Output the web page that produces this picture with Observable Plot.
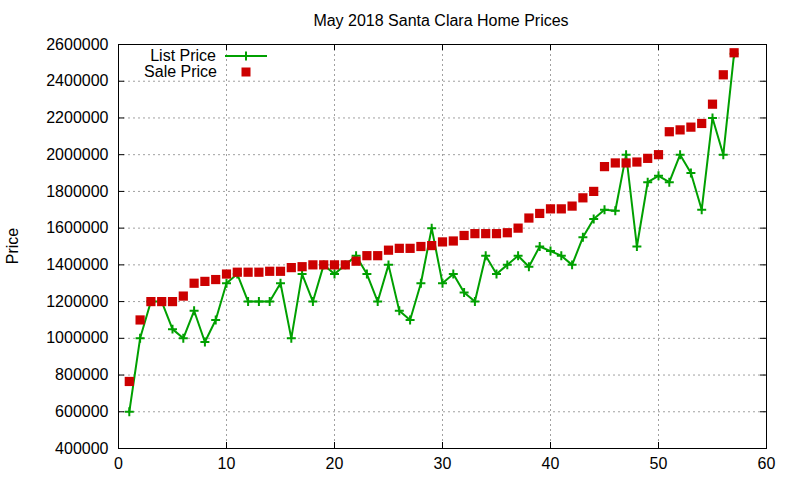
<!DOCTYPE html>
<html>
<head>
<meta charset="utf-8">
<script src="https://cdn.jsdelivr.net/npm/d3@7"></script>
<script src="https://cdn.jsdelivr.net/npm/@observablehq/plot@0.6"></script>
<style>
  html, body { margin: 0; padding: 0; background: #fff; }
  #chart { width: 800px; height: 480px; }
  svg { font-family: "Liberation Sans", Arial, sans-serif; }
</style>
</head>
<body>
<div id="chart"></div>
<script>
const title = "May 2018 Santa Clara Home Prices";
const yLabel = "Price";
const seriesNames = ["List Price", "Sale Price"];

const homeIndex = d3.range(1, 58);
const listPrice = [
  600000, 1000000, 1200000, 1200000, 1050000, 1000000, 1150000, 980000, 1100000, 1300000,
  1350000, 1200000, 1200000, 1200000, 1300000, 1000000, 1350000, 1200000, 1400000, 1350000,
  1400000, 1450000, 1350000, 1200000, 1400000, 1150000, 1100000, 1300000, 1600000, 1300000,
  1350000, 1250000, 1200000, 1450000, 1350000, 1400000, 1450000, 1390000, 1500000, 1475000,
  1450000, 1400000, 1550000, 1650000, 1700000, 1695000, 2000000, 1500000, 1850000, 1885000,
  1850000, 2000000, 1900000, 1700000, 2200000, 2000000, 2550000
];
const salePrice = [
  765000, 1100000, 1200000, 1200000, 1200000, 1230000, 1300000, 1310000, 1320000, 1350000,
  1360000, 1360000, 1360000, 1365000, 1365000, 1385000, 1390000, 1400000, 1400000, 1400000,
  1400000, 1420000, 1450000, 1450000, 1480000, 1490000, 1490000, 1500000, 1505000, 1525000,
  1530000, 1560000, 1570000, 1570000, 1570000, 1575000, 1600000, 1655000, 1680000, 1705000,
  1705000, 1720000, 1765000, 1800000, 1935000, 1955000, 1955000, 1960000, 1980000, 2000000,
  2125000, 2135000, 2150000, 2170000, 2275000, 2435000, 2555000
];
const xTicks = [0, 10, 20, 30, 40, 50, 60];
const yTicks = [400000, 600000, 800000, 1000000, 1200000, 1400000, 1600000, 1800000, 2000000, 2200000, 2400000, 2600000];

const listColor = "#00a000";
const saleColor = "#cc0000";

const listData = homeIndex.map((x, i) => ({x, y: listPrice[i]}));
const saleData = homeIndex.map((x, i) => ({x, y: salePrice[i]}));

const plot = Plot.plot({
  width: 800,
  height: 480,
  marginLeft: 118,
  marginRight: 34,
  marginTop: 44,
  marginBottom: 32,
  style: {fontSize: "16px", fontFamily: "'Liberation Sans', Arial, sans-serif", color: "#000", background: "#fff"},
  x: {domain: [0, 60], ticks: xTicks},
  y: {domain: [400000, 2600000], ticks: yTicks},
  marks: [
    Plot.gridX(xTicks.slice(1, -1), {stroke: "#a0a0a0", strokeOpacity: 1, strokeDasharray: "2,3"}),
    Plot.gridY(yTicks.slice(1, -1), {stroke: "#a0a0a0", strokeOpacity: 1, strokeDasharray: "2,3"}),
    Plot.axisX(xTicks, {tickSize: 0, tickPadding: 9, tickFormat: d => String(d), label: null, fontSize: 16}),
    Plot.axisY(yTicks, {tickSize: 0, tickPadding: 10, tickFormat: d => String(d), label: null, fontSize: 16}),
    Plot.tickX(xTicks, {x: d => d, insetTop: 398, stroke: "#000"}),
    Plot.tickX(xTicks, {x: d => d, insetBottom: 398, stroke: "#000"}),
    Plot.tickY(yTicks, {y: d => d, insetRight: 642, stroke: "#000"}),
    Plot.tickY(yTicks, {y: d => d, insetLeft: 642, stroke: "#000"}),
    Plot.line(listData, {x: "x", y: "y", stroke: listColor, strokeWidth: 2}),
    Plot.dot(listData, {x: "x", y: "y", symbol: "plus", r: 3, stroke: listColor, strokeWidth: 2}),
    Plot.dot(saleData, {x: "x", y: "y", symbol: "square", r: 5.2, fill: saleColor, stroke: "none"}),
    Plot.frame({stroke: "#000", strokeWidth: 1})
  ]
});

const svg = d3.select(plot);
// title
svg.append("text").attr("x", 441).attr("y", 26).attr("text-anchor", "middle")
  .attr("font-size", 16).attr("fill", "#000").text(title);
// y label
svg.append("text").attr("transform", "translate(18,246) rotate(-90)").attr("text-anchor", "middle")
  .attr("font-size", 16).attr("fill", "#000").text(yLabel);
// legend
const lg = svg.append("g");
lg.append("text").attr("x", 216).attr("y", 61).attr("text-anchor", "end")
  .attr("font-size", 16).attr("fill", "#000").text(seriesNames[0]);
lg.append("text").attr("x", 217).attr("y", 77).attr("text-anchor", "end")
  .attr("font-size", 16).attr("fill", "#000").text(seriesNames[1]);
lg.append("line").attr("x1", 225).attr("x2", 267).attr("y1", 56).attr("y2", 56)
  .attr("stroke", listColor).attr("stroke-width", 2);
lg.append("path").attr("d", "M241.5,56h9M246,51.5v9").attr("stroke", listColor).attr("stroke-width", 2);
lg.append("rect").attr("x", 241.5).attr("y", 67.5).attr("width", 9).attr("height", 9).attr("fill", saleColor);

document.getElementById("chart").appendChild(plot);
</script>
</body>
</html>
